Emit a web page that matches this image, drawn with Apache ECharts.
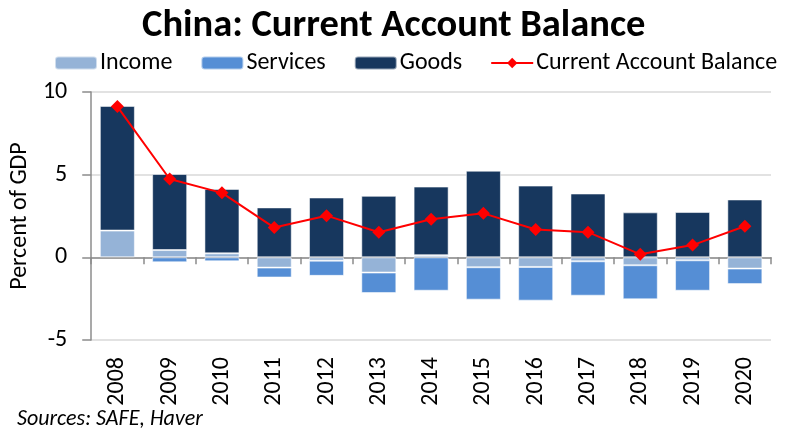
<!DOCTYPE html>
<html><head><meta charset="utf-8">
<script src="https://cdn.jsdelivr.net/npm/echarts@6/dist/echarts.min.js"></script>
<style>html,body{margin:0;padding:0;background:#fff}#c{width:801px;height:430px}</style>
</head><body><div id="c"></div>
<script>
const years = ['2008','2009','2010','2011','2012','2013','2014','2015','2016','2017','2018','2019','2020'];
const income = [1.62, 0.44, 0.24, -0.62, -0.20, -0.92, 0.13, -0.60, -0.58, -0.24, -0.48, -0.18, -0.68];
const services = [0.00, -0.30, -0.24, -0.60, -0.92, -1.24, -2.02, -1.96, -2.04, -2.08, -2.06, -1.84, -0.94];
const goods = [7.54, 4.60, 3.90, 3.02, 3.62, 3.72, 4.15, 5.24, 4.34, 3.86, 2.72, 2.74, 3.50];
const cab = [9.12, 4.74, 3.90, 1.80, 2.52, 1.52, 2.30, 2.66, 1.68, 1.52, 0.18, 0.74, 1.88];
const yTicks = { min: -5, max: 10, interval: 5 };

const FONT = "Carlito, 'Liberation Sans Narrow', 'Noto Sans', sans-serif";
const chart = echarts.init(document.getElementById('c'));
const barStyle = c => ({ color: c, borderColor: 'rgba(255,255,255,0.55)', borderWidth: 1 });
chart.setOption({
  animation: false,
  textStyle: { fontFamily: FONT },
  title: { text: 'China: Current Account Balance', left: 137, top: 2,
    textStyle: { fontFamily: FONT, fontSize: 38.5, fontWeight: 'bold', color: '#000' } },
  legend: { top: 46, left: 49, itemWidth: 42, itemHeight: 13, itemGap: 28,
    textStyle: { fontFamily: FONT, fontSize: 24, color: '#000', padding: [0,0,0,-2] },
    data: ['Income','Services','Goods','Current Account Balance'] },
  grid: { left: 86, right: 30, top: 92, bottom: 90 },
  xAxis: [
    { type: 'category', data: years, position: 'bottom',
      axisLine: { onZero: true, lineStyle: { color: '#8c8c8c', width: 1.5 } },
      axisTick: { show: true, length: 7, lineStyle: { color: '#8c8c8c', width: 1.5 } },
      axisLabel: { show: false } },
    { type: 'category', data: years, position: 'bottom',
      axisLine: { show: false, onZero: false }, axisTick: { show: false },
      axisLabel: { rotate: 90, fontSize: 24, color: '#000', margin: 17, fontFamily: FONT } }
  ],
  yAxis: { type: 'value', min: yTicks.min, max: yTicks.max, interval: yTicks.interval,
    name: 'Percent of GDP', nameLocation: 'middle', nameGap: 48,
    nameTextStyle: { fontSize: 24, color: '#000', fontFamily: FONT },
    axisLine: { show: true, lineStyle: { color: '#8c8c8c', width: 1.5 } },
    axisTick: { show: true, length: 9, lineStyle: { color: '#8c8c8c', width: 1.5 } },
    axisLabel: { fontSize: 24, color: '#000', margin: 24, fontFamily: FONT },
    splitLine: { lineStyle: { color: '#d9d9d9', width: 1.5 } } },
  series: [
    { name: 'Income', type: 'bar', stack: 'ca', data: income, barWidth: '67%', itemStyle: barStyle('#95b3d7') },
    { name: 'Services', type: 'bar', stack: 'ca', data: services, barWidth: '67%', itemStyle: barStyle('#558ed5') },
    { name: 'Goods', type: 'bar', stack: 'ca', data: goods, barWidth: '67%', itemStyle: barStyle('#17375e') },
    { name: 'Current Account Balance', type: 'line', data: cab, symbol: 'diamond', symbolSize: 13,
      lineStyle: { color: '#ff0000', width: 2 }, itemStyle: { color: '#ff0000' }, z: 5 }
  ],
  graphic: [{ type: 'text', left: 17, top: 408,
    style: { text: 'Sources: SAFE, Haver', font: "italic 22px " + FONT, fill: '#000' } }]
});
</script></body></html>
